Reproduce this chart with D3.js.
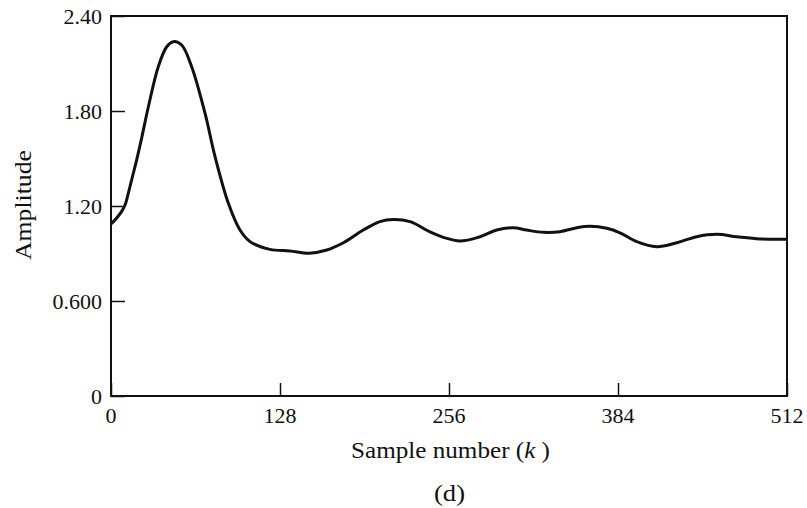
<!DOCTYPE html>
<html>
<head>
<meta charset="utf-8">
<script src="https://cdn.jsdelivr.net/npm/d3@7"></script>
<style>
  html, body { margin: 0; padding: 0; background: #fff; }
  svg { display: block; }
  text { font-family: "Liberation Serif", "DejaVu Serif", serif; fill: #111; }
</style>
</head>
<body>
<svg id="chart" width="807" height="508"></svg>
<script>
// ---- data ----
const sampleK = [0, 0.8, 4.3, 8.1, 10.6, 13.1, 15.6, 19.4, 23.5, 28.3, 35.8, 42.2, 47.2, 53.5, 61.1, 71.2, 78.8, 88.9, 97.7, 105.3, 120.4, 135.6, 150, 163.4, 176, 191.1, 203.7, 213.8, 226.5, 241.6, 251.7, 264.3, 279.5, 292.1, 304.7, 314.8, 327.5, 340.1, 352.8, 362.9, 375.5, 385.5, 398.2, 413.3, 428.5, 443.6, 458.8, 474, 491.6, 512];
const amplitude = [1.09, 1.093, 1.124, 1.166, 1.206, 1.280, 1.364, 1.490, 1.640, 1.827, 2.080, 2.206, 2.238, 2.217, 2.080, 1.786, 1.512, 1.217, 1.048, 0.975, 0.926, 0.916, 0.902, 0.922, 0.968, 1.048, 1.101, 1.114, 1.101, 1.036, 1.002, 0.979, 1.006, 1.048, 1.063, 1.048, 1.034, 1.038, 1.063, 1.072, 1.059, 1.031, 0.975, 0.943, 0.968, 1.006, 1.021, 1.006, 0.992, 0.99];
const xTicks = [0, 128, 256, 384, 512];
const xTickLabels = ["0", "128", "256", "384", "512"];
const yTicks = [0, 0.6, 1.2, 1.8, 2.4];
const yTickLabels = ["0", "0.600", "1.20", "1.80", "2.40"];
const xTitle = "Sample number (";
const xTitleVar = "k";
const yTitle = "Amplitude";
const caption = "(d)";

// ---- layout ----
const svg = d3.select("#chart");
const plotL = 111, plotR = 787, plotT = 16, plotB = 396;

const x = d3.scaleLinear().domain([0, 512]).range([plotL, plotR]);
const y = d3.scaleLinear().domain([0, 2.4]).range([plotB, plotT]);

// frame
svg.append("rect")
  .attr("x", plotL).attr("y", plotT)
  .attr("width", plotR - plotL).attr("height", plotB - plotT)
  .attr("fill", "none").attr("stroke", "#111").attr("stroke-width", 2);

// x axis (ticks inward)
const xAxis = d3.axisTop(x).tickValues(xTicks).tickSize(13).tickFormat("");
const gx = svg.append("g").attr("transform", `translate(0,${plotB})`).call(xAxis);
gx.select(".domain").remove();
gx.selectAll(".tick line").attr("stroke", "#111").attr("stroke-width", 1.5);
svg.append("g").selectAll("text.xl").data(xTicks).join("text")
  .attr("class", "xl")
  .attr("x", d => x(d)).attr("y", 423)
  .attr("text-anchor", "middle")
  .attr("font-size", 22)
  .text((d, i) => xTickLabels[i]);

// y axis (ticks inward)
const yAxis = d3.axisRight(y).tickValues(yTicks).tickSize(14).tickFormat("");
const gy = svg.append("g").attr("transform", `translate(${plotL},0)`).call(yAxis);
gy.select(".domain").remove();
gy.selectAll(".tick line").attr("stroke", "#111").attr("stroke-width", 1.5);
svg.append("g").selectAll("text.yl").data(yTicks).join("text")
  .attr("class", "yl")
  .attr("x", 102).attr("y", d => y(d) + 8)
  .attr("text-anchor", "end")
  .attr("font-size", 22)
  .text((d, i) => yTickLabels[i]);

// curve
const line = d3.line()
  .x((d, i) => x(sampleK[i]))
  .y(d => y(d))
  .curve(d3.curveCatmullRom.alpha(0.5));
svg.append("path")
  .datum(amplitude)
  .attr("d", line)
  .attr("fill", "none")
  .attr("stroke", "#111")
  .attr("stroke-width", 3)
  .attr("stroke-linejoin", "round");

// titles
const xt = svg.append("text")
  .attr("x", 351).attr("y", 458)
  .attr("font-size", 23)
  .attr("textLength", 199)
  .attr("lengthAdjust", "spacingAndGlyphs");
xt.append("tspan").text(xTitle);
xt.append("tspan").attr("font-style", "italic").text(xTitleVar);
xt.append("tspan").text(" )");

svg.append("text")
  .attr("transform", "translate(31,260) rotate(-90)")
  .attr("font-size", 23)
  .attr("textLength", 110)
  .attr("lengthAdjust", "spacingAndGlyphs")
  .text(yTitle);

svg.append("text")
  .attr("x", 434).attr("y", 501)
  .attr("font-size", 23)
  .attr("textLength", 31)
  .attr("lengthAdjust", "spacingAndGlyphs")
  .text(caption);
</script>
</body>
</html>
